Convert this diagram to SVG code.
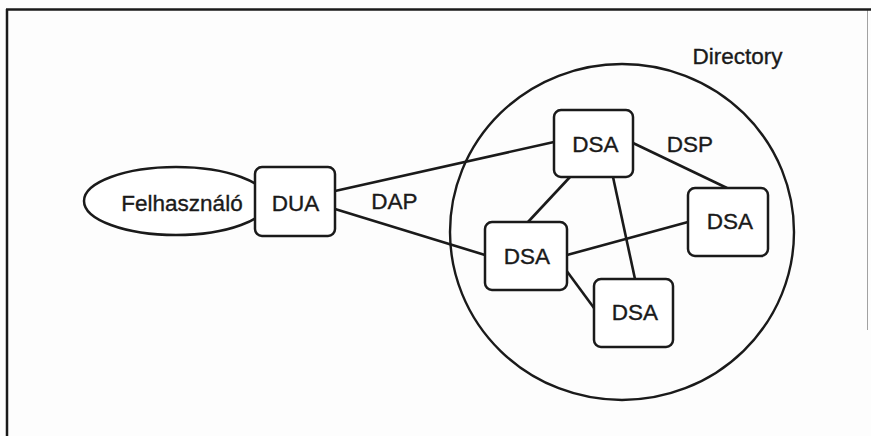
<svg xmlns="http://www.w3.org/2000/svg" width="871" height="436" viewBox="0 0 871 436">
<style>
.box{fill:#fff;stroke:#1a1a1a;stroke-width:2.5}
.lbl{font-family:"Liberation Sans",Arial,sans-serif;font-size:22.5px;fill:#1a1a1a;stroke:#1a1a1a;stroke-width:0.35;text-anchor:middle}
.ln{stroke:#1a1a1a;stroke-width:2.6;fill:none}
.frame{stroke:#1a1a1a;fill:none}
</style>
<rect width="871" height="436" fill="#fdfdfd"/>
<g id="frame">
<line class="frame" x1="6" y1="9.5" x2="871" y2="9.5" stroke-width="2.5"/>
<line class="frame" x1="7" y1="9" x2="7" y2="436" stroke-width="2.5"/>
<line class="frame" x1="867.5" y1="9" x2="867.5" y2="330" stroke-width="1" stroke-opacity="0.4"/>
</g>
<g id="directory">
<ellipse cx="622" cy="232" rx="172" ry="168" fill="none" stroke="#1a1a1a" stroke-width="2.4"/>
<text class="lbl" x="737.5" y="64">Directory</text>
</g>
<g id="connectors">
<line class="ln" x1="335" y1="191" x2="554" y2="142"/>
<line class="ln" x1="335" y1="209" x2="485" y2="255"/>
<line class="ln" x1="633" y1="143" x2="727" y2="188"/>
<line class="ln" x1="570" y1="177" x2="528" y2="222"/>
<line class="ln" x1="613" y1="177" x2="635" y2="279"/>
<line class="ln" x1="567" y1="255" x2="688" y2="222"/>
<line class="ln" x1="566" y1="270" x2="594" y2="308"/>
<text class="lbl" x="394.5" y="209">DAP</text>
<text class="lbl" x="690" y="152">DSP</text>
</g>
<g id="felhasznalo">
<ellipse cx="176" cy="201" rx="92" ry="34" class="box"/>
<text class="lbl" x="182" y="211">Felhasználó</text>
</g>
<g id="dua">
<rect x="255" y="167" width="80" height="69" rx="7" class="box"/>
<text class="lbl" x="295.5" y="211">DUA</text>
</g>
<g id="dsa-top">
<rect x="554" y="110" width="79" height="67" rx="7" class="box"/>
<text class="lbl" x="595.5" y="152">DSA</text>
</g>
<g id="dsa-right">
<rect x="688" y="188" width="80" height="68" rx="7" class="box"/>
<text class="lbl" x="730" y="229">DSA</text>
</g>
<g id="dsa-left">
<rect x="485" y="222" width="82" height="68" rx="7" class="box"/>
<text class="lbl" x="527" y="264">DSA</text>
</g>
<g id="dsa-bottom">
<rect x="594" y="279" width="79" height="68" rx="7" class="box"/>
<text class="lbl" x="635" y="320">DSA</text>
</g>
</svg>
